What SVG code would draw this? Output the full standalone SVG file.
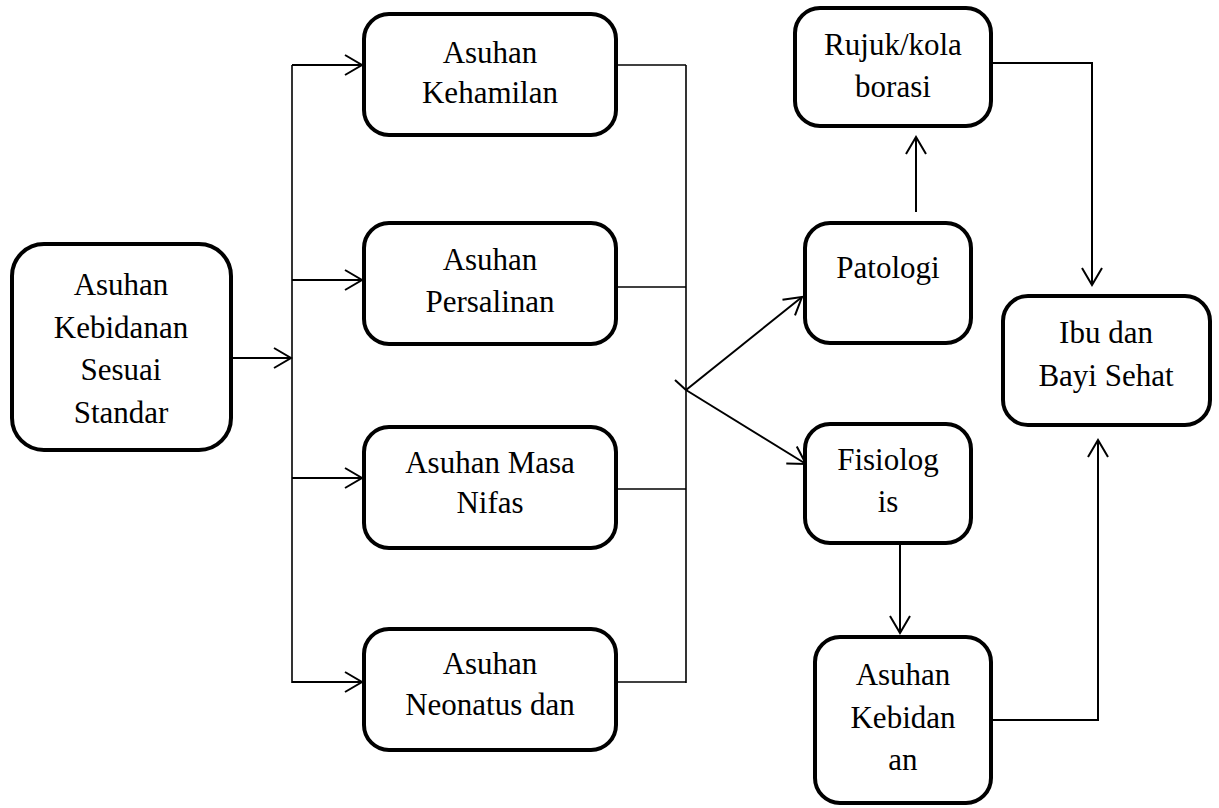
<svg xmlns="http://www.w3.org/2000/svg" width="1219" height="808" viewBox="0 0 1219 808">
<style>
.box{fill:#fff;stroke:#000;stroke-width:4}
.t{font-size:31px;fill:#000;text-anchor:middle;font-family:'Times New Roman',Tinos,'Liberation Serif',serif}
.c{fill:none;stroke:#000;stroke-width:2}
.c1{fill:none;stroke:#000;stroke-width:1.6}
</style>
<defs>
<marker id="arr" markerUnits="userSpaceOnUse" markerWidth="40" markerHeight="40" viewBox="-20 -20 40 40" refX="0" refY="0" orient="auto" overflow="visible">
<path d="M-17,-10 L0,0 L-17,10" fill="none" stroke="#000" stroke-width="2"/>
</marker>
</defs>
<rect width="1219" height="808" fill="#fff"/>
<g id="connectors">
<line class="c" x1="233" y1="358" x2="291" y2="358" marker-end="url(#arr)"/>
<line class="c1" x1="292" y1="65" x2="292" y2="683"/>
<line class="c" x1="292" y1="65" x2="362" y2="65" marker-end="url(#arr)"/>
<line class="c" x1="292" y1="280" x2="362" y2="280" marker-end="url(#arr)"/>
<line class="c" x1="292" y1="478" x2="362" y2="478" marker-end="url(#arr)"/>
<line class="c" x1="292" y1="682" x2="362" y2="682" marker-end="url(#arr)"/>
<line class="c1" x1="618" y1="65" x2="686" y2="65"/>
<line class="c1" x1="618" y1="287" x2="686" y2="287"/>
<line class="c1" x1="618" y1="489" x2="686" y2="489"/>
<line class="c1" x1="618" y1="682" x2="686" y2="682"/>
<line class="c1" x1="686" y1="65" x2="686" y2="683"/>
<line class="c" x1="675" y1="380" x2="686" y2="390"/>
<line class="c" x1="686" y1="390" x2="802" y2="297" marker-end="url(#arr)"/>
<line class="c" x1="686" y1="390" x2="806" y2="464" marker-end="url(#arr)"/>
<line class="c" x1="916" y1="212" x2="916" y2="137" marker-end="url(#arr)"/>
<polyline class="c" points="993,63 1092,63 1092,285" marker-end="url(#arr)"/>
<line class="c" x1="900" y1="545" x2="900" y2="633" marker-end="url(#arr)"/>
<polyline class="c" points="993,720 1098,720 1098,440" marker-end="url(#arr)"/>
</g>
<g id="node-standar">
<rect class="box" x="12" y="244" width="219" height="206" rx="32"/>
<text class="t" x="121" y="295">Asuhan</text>
<text class="t" x="121" y="338">Kebidanan</text>
<text class="t" x="121" y="380">Sesuai</text>
<text class="t" x="121" y="423">Standar</text>
</g>
<g id="node-kehamilan">
<rect class="box" x="364" y="14" width="252" height="121" rx="25"/>
<text class="t" x="490" y="63">Asuhan</text>
<text class="t" x="490" y="103">Kehamilan</text>
</g>
<g id="node-persalinan">
<rect class="box" x="364" y="223" width="252" height="121" rx="25"/>
<text class="t" x="490" y="270">Asuhan</text>
<text class="t" x="490" y="312">Persalinan</text>
</g>
<g id="node-nifas">
<rect class="box" x="364" y="427" width="252" height="121" rx="25"/>
<text class="t" x="490" y="473">Asuhan Masa</text>
<text class="t" x="490" y="513">Nifas</text>
</g>
<g id="node-neonatus">
<rect class="box" x="364" y="629" width="252" height="121" rx="25"/>
<text class="t" x="490" y="674">Asuhan</text>
<text class="t" x="490" y="715">Neonatus dan</text>
</g>
<g id="node-rujuk">
<rect class="box" x="795" y="8" width="196" height="118" rx="25"/>
<text class="t" x="893" y="55">Rujuk/kola</text>
<text class="t" x="893" y="97">borasi</text>
</g>
<g id="node-patologi">
<rect class="box" x="805" y="223" width="166" height="120" rx="25"/>
<text class="t" x="888" y="278">Patologi</text>
</g>
<g id="node-fisiologis">
<rect class="box" x="805" y="424" width="166" height="119" rx="25"/>
<text class="t" x="888" y="470">Fisiolog</text>
<text class="t" x="888" y="512">is</text>
</g>
<g id="node-asuhan-kebidanan">
<rect class="box" x="815" y="637" width="176" height="166" rx="25"/>
<text class="t" x="903" y="685">Asuhan</text>
<text class="t" x="903" y="728">Kebidan</text>
<text class="t" x="903" y="770">an</text>
</g>
<g id="node-ibu">
<rect class="box" x="1003" y="296" width="207" height="129" rx="25"/>
<text class="t" x="1106" y="343">Ibu dan</text>
<text class="t" x="1106" y="386">Bayi Sehat</text>
</g>
</svg>
